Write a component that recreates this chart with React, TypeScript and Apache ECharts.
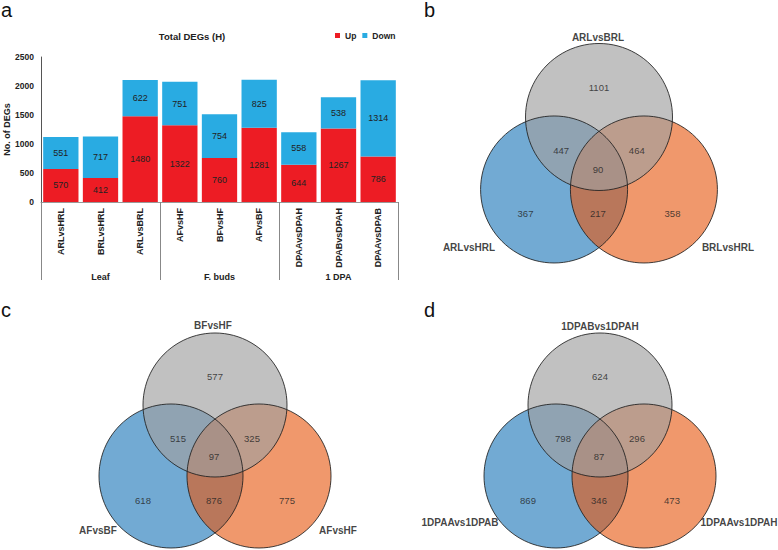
import React, { useEffect, useRef } from 'react';
import * as echarts from 'echarts';

const FONT = '"Liberation Sans", Arial, sans-serif';

// ---- Panel a: stacked bars ----
const barCategories = ['ARLvsHRL', 'BRLvsHRL', 'ARLvsBRL', 'AFvsHF', 'BFvsHF', 'AFvsBF', 'DPAAvsDPAH', 'DPABvsDPAH', 'DPAAvsDPAB'];
const upValues = [570, 412, 1480, 1322, 760, 1281, 644, 1267, 786];
const downValues = [551, 717, 622, 751, 754, 825, 558, 538, 1314];
const tissueGroups = ['Leaf', 'F. buds', '1 DPA'];
const seriesNames = ['Up', 'Down'];

// ---- Venn panels (sets: top, left, right) ----
// counts: topOnly, top&left, top&right, all, leftOnly, left&right, rightOnly
const vennBSets = ['ARLvsBRL', 'ARLvsHRL', 'BRLvsHRL'];
const vennBCounts = [1101, 447, 464, 90, 367, 217, 358];
const vennCSets = ['BFvsHF', 'AFvsBF', 'AFvsHF'];
const vennCCounts = [577, 515, 325, 97, 618, 876, 775];
const vennDSets = ['1DPABvs1DPAH', '1DPAAvs1DPAB', '1DPAAvs1DPAH'];
const vennDCounts = [624, 798, 296, 87, 869, 346, 473];

// layout (pixels)
const VENNS = [
  { sets: vennBSets, counts: vennBCounts, cx: 599, cy: 117, r: 73.5, labels: [[598, 37], [469, 247], [728, 247]] },
  { sets: vennCSets, counts: vennCCounts, cx: 215, cy: 405, r: 72, labels: [[213, 325], [98, 530], [338, 530]] },
  { sets: vennDSets, counts: vennDCounts, cx: 600, cy: 405, r: 72, labels: [[600, 326], [460, 522], [739, 522]] },
];
const CIRCLE_OFFSETS = [[0, 0], [-44, 71], [44, 71]];
const COUNT_OFFSETS = [[0, -29], [-37, 33], [37, 33], [-1, 51], [-72, 95], [-1, 95], [72, 95]];
const CIRCLE_FILLS = ['rgba(159,159,159,0.65)', 'rgba(32,120,186,0.63)', 'rgba(230,86,14,0.61)'];

export default function App() {
  const ref = useRef<HTMLDivElement>(null);
  useEffect(() => {
    if (!ref.current) return;
    const chart = echarts.init(ref.current, undefined, { renderer: 'svg' });

    const circleSeries = (idx: number) => ({
      type: 'scatter',
      xAxisIndex: 2,
      yAxisIndex: 1,
      silent: true,
      symbol: 'circle',
      itemStyle: { color: CIRCLE_FILLS[idx], borderWidth: 0, opacity: 1 },
      data: VENNS.map((v) => {
        const k = v.r / 72;
        return {
          value: [v.cx + CIRCLE_OFFSETS[idx][0] * k, v.cy + CIRCLE_OFFSETS[idx][1] * k],
          symbolSize: v.r * 2,
        };
      }),
      z: 2,
    });

    const outlineData: any[] = [];
    VENNS.forEach((v) => {
      const k = v.r / 72;
      CIRCLE_OFFSETS.forEach((o) => {
        outlineData.push({ value: [v.cx + o[0] * k, v.cy + o[1] * k], symbolSize: v.r * 2 });
      });
    });

    const countData: any[] = [];
    VENNS.forEach((v) => {
      const k = v.r / 72;
      v.counts.forEach((c, i) => {
        countData.push({ value: [v.cx + COUNT_OFFSETS[i][0] * k, v.cy + COUNT_OFFSETS[i][1] * k, c] });
      });
    });

    const setLabelData: any[] = [];
    VENNS.forEach((v) => {
      v.sets.forEach((s, i) => {
        setLabelData.push({ value: [v.labels[i][0], v.labels[i][1]], name: s });
      });
    });

    const letter = (t: string, x: number, y: number) => ({
      type: 'text',
      left: x,
      top: y,
      style: { text: t, fontSize: 20, lineHeight: 18, fontFamily: FONT, fill: '#111' },
    });

    chart.setOption({
      animation: false,
      textStyle: { fontFamily: FONT },
      grid: [
        { left: 41, right: 380, top: 57, bottom: 348 },
        { left: 0, top: 0, width: 778, height: 550 },
      ],
      legend: {
        data: seriesNames,
        left: 335,
        top: 31,
        itemWidth: 5,
        itemHeight: 5,
        itemGap: 6,
        icon: 'rect',
        padding: 0,
        textStyle: { fontSize: 8.5, fontWeight: 'bold', color: '#222', fontFamily: FONT },
      },
      graphic: [
        letter('a', 1, 0),
        letter('b', 424, 0),
        letter('c', 1, 300),
        letter('d', 424, 300),
        {
          type: 'text',
          x: 192,
          y: 36,
          style: {
            text: 'Total DEGs (H)',
            fontSize: 9.5,
            fontWeight: 'bold',
            fontFamily: FONT,
            fill: '#222',
            align: 'center',
            verticalAlign: 'middle',
          },
        },
      ],
      xAxis: [
        {
          type: 'category',
          gridIndex: 0,
          data: barCategories,
          position: 'bottom',
          axisLine: { lineStyle: { color: '#999', width: 1 } },
          axisTick: { show: false },
          axisLabel: { rotate: 90, margin: 6, fontSize: 9, fontWeight: 'bold', color: '#222', fontFamily: FONT },
        },
        {
          type: 'category',
          gridIndex: 0,
          data: tissueGroups,
          position: 'bottom',
          axisLine: { show: false },
          axisTick: { show: true, length: 78, lineStyle: { color: '#888', width: 1 } },
          axisLabel: { margin: 70, fontSize: 9, fontWeight: 'bold', color: '#222', fontFamily: FONT },
        },
        { type: 'value', gridIndex: 1, min: 0, max: 778, show: false },
      ],
      yAxis: [
        {
          type: 'value',
          gridIndex: 0,
          min: 0,
          max: 2500,
          interval: 500,
          name: 'No. of DEGs',
          nameLocation: 'middle',
          nameGap: 30,
          nameTextStyle: { fontSize: 9, fontWeight: 'bold', color: '#222', fontFamily: FONT },
          axisLine: { show: true, lineStyle: { color: '#555', width: 1 } },
          axisTick: { show: false },
          splitLine: { show: false },
          axisLabel: {
            margin: 7,
            fontSize: 8.5,
            fontWeight: 'bold',
            color: '#222',
            fontFamily: FONT,
            formatter: (v: number) => String(v),
          },
        },
        { type: 'value', gridIndex: 1, min: 0, max: 550, inverse: true, show: false },
      ],
      series: [
        {
          name: 'Up',
          type: 'bar',
          stack: 'total',
          xAxisIndex: 0,
          yAxisIndex: 0,
          barCategoryGap: '11%',
          itemStyle: { color: '#ED1C24' },
          label: { show: true, position: 'inside', fontSize: 9, color: '#222', fontFamily: FONT },
          data: upValues,
        },
        {
          name: 'Down',
          type: 'bar',
          stack: 'total',
          xAxisIndex: 0,
          yAxisIndex: 0,
          barCategoryGap: '11%',
          itemStyle: { color: '#29ABE2' },
          label: { show: true, position: 'inside', fontSize: 9, color: '#222', fontFamily: FONT },
          data: downValues,
        },
        circleSeries(1),
        circleSeries(2),
        circleSeries(0),
        {
          type: 'scatter',
          xAxisIndex: 2,
          yAxisIndex: 1,
          silent: true,
          symbol: 'circle',
          itemStyle: { color: 'transparent', borderColor: 'rgba(30,30,30,0.85)', borderWidth: 1, opacity: 1 },
          data: outlineData,
          z: 3,
        },
        {
          type: 'scatter',
          xAxisIndex: 2,
          yAxisIndex: 1,
          silent: true,
          symbolSize: 1,
          itemStyle: { color: 'transparent' },
          label: {
            show: true,
            position: 'inside',
            formatter: (p: any) => String(p.value[2]),
            fontSize: 9.5,
            color: '#222',
            fontFamily: FONT,
          },
          data: countData,
          z: 4,
        },
        {
          type: 'scatter',
          xAxisIndex: 2,
          yAxisIndex: 1,
          silent: true,
          symbolSize: 1,
          itemStyle: { color: 'transparent' },
          label: {
            show: true,
            position: 'inside',
            formatter: '{b}',
            fontSize: 10,
            fontWeight: 'bold',
            color: '#111',
            fontFamily: FONT,
          },
          data: setLabelData,
          z: 4,
        },
      ],
    });
    return () => chart.dispose();
  }, []);

  return <div ref={ref} style={{ position: 'absolute', left: 0, top: 0, width: 778, height: 550 }} />;
}
